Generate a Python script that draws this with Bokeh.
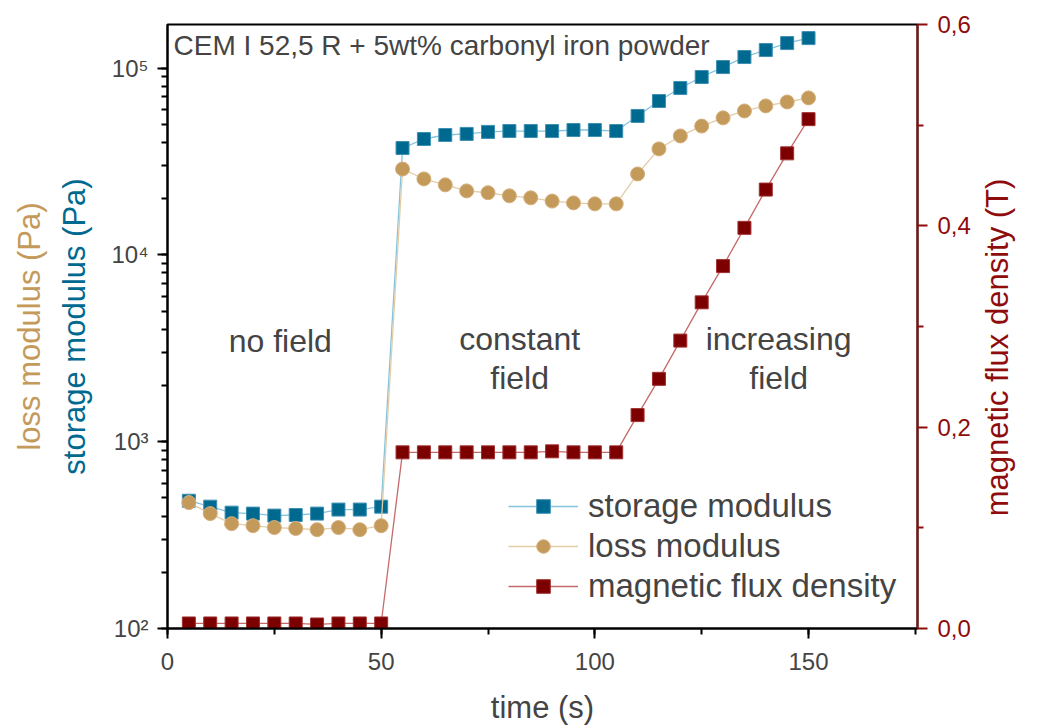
import math
from bokeh.plotting import figure
from bokeh.layouts import row
from bokeh.models import (Range1d, LinearAxis, LinearScale, SingleIntervalTicker, FixedTicker,
                          CustomJSTickFormatter, Label, Legend, LegendItem, LogTicker)
from bokeh.embed import file_html
from bokeh.resources import INLINE

time_s = [5, 10, 15, 20, 25, 30, 35, 40, 45, 50,
          55, 60, 65, 70, 75, 80, 85, 90, 95, 100,
          105, 110, 115, 120, 125, 130, 135, 140, 145, 150]
storage_modulus = [483, 449, 417, 412, 402, 405, 412, 433, 433, 449,
                   37300, 41700, 43800, 44400, 45500, 46000, 46000, 46000, 46600, 46600,
                   46000, 55400, 66600, 78200, 89500, 101200, 114500, 124800, 136000, 144600]
loss_modulus = [472, 412, 364, 355, 347, 343, 338, 347, 338, 355,
                28800, 25500, 23700, 22000, 21500, 20700, 20200, 19400, 18970, 18750,
                18750, 27100, 36900, 43300, 48900, 54100, 58900, 62700, 65800, 69200]
flux_density = [0.005, 0.005, 0.005, 0.005, 0.005, 0.005, 0.004, 0.005, 0.005, 0.005,
                0.175, 0.175, 0.175, 0.175, 0.175, 0.175, 0.175, 0.176, 0.175, 0.175,
                0.175, 0.212, 0.248, 0.286, 0.324, 0.360, 0.398, 0.436, 0.472, 0.506]
flux_ticks = [0.0, 0.2, 0.4, 0.6]
flux_minor_ticks = [0.1, 0.3, 0.5]

title_text = "CEM I 52,5 R + 5wt% carbonyl iron powder"
right_title = "magnetic flux density (T)"
region_labels = [("no field", 26.4, 3470), ("constant", 82.4, 3560), ("field", 82.4, 2200),
                 ("increasing", 143.0, 3560), ("field", 143.0, 2200)]

FONT = "Liberation Sans"
BLUE = "#00698f"
BLUE_LINE = "#86c3dc"
TAN = "#c49a5b"
TAN_LINE = "#e3cda8"
RED = "#7d0000"
RED_LINE = "#c46a6a"
AXRED = "#8e0c0c"

p = figure(width=980, height=728, output_backend="svg", toolbar_location=None,
           y_axis_type="log", x_range=Range1d(0, 175.5), y_range=Range1d(100, 171000),
           min_border_left=167, min_border_right=63, min_border_top=24, min_border_bottom=100)
p.extra_y_ranges = {"flux": Range1d(0, 0.6)}
p.extra_y_scales = {"flux": LinearScale()}
p.xgrid.visible = False
p.ygrid.visible = False
p.outline_line_color = "black"
p.outline_line_width = 2
p.background_fill_color = "white"
p.border_fill_color = "white"

# x axis
xa = p.xaxis[0]
xa.ticker = SingleIntervalTicker(interval=50, num_minor_ticks=2)
xa.axis_label = "time (s)"
xa.axis_label_text_font = FONT
xa.axis_label_text_font_style = "normal"
xa.axis_label_text_font_size = "31px"
xa.axis_label_standoff = 17
xa.major_label_text_font = FONT
xa.major_label_text_font_size = "24px"
xa.major_label_standoff = 14
xa.axis_line_width = 2
xa.major_tick_line_width = 2
xa.major_tick_out = 10
xa.major_tick_in = 0
xa.minor_tick_out = 6
xa.minor_tick_in = 0
xa.minor_tick_line_width = 2

# left log axis
ya = p.yaxis[0]
ya.ticker = LogTicker(desired_num_ticks=4, num_minor_ticks=10)
ya.formatter = CustomJSTickFormatter(code="""
const sup = {'0':'\u2070','1':'\u00b9','2':'\u00b2','3':'\u00b3','4':'\u2074','5':'\u2075','6':'\u2076','7':'\u2077','8':'\u2078','9':'\u2079'};
const e = Math.round(Math.log10(tick));
return '10' + String(e).split('').map(c => sup[c]).join('');
""")
ya.axis_label = "storage modulus (Pa)"
ya.axis_label_text_color = BLUE
ya.axis_label_text_font = FONT
ya.axis_label_text_font_style = "normal"
ya.axis_label_text_font_size = "31px"
ya.axis_label_standoff = 16
ya.major_label_text_font = FONT
ya.major_label_text_font_size = "24px"
ya.major_label_standoff = 9
ya.axis_line_width = 2
ya.major_tick_line_width = 2
ya.major_tick_out = 10
ya.major_tick_in = 0
ya.minor_tick_out = 6
ya.minor_tick_in = 0
ya.minor_tick_line_width = 2

# extra left axis carrying only the loss modulus title
la = LinearAxis(y_range_name="flux", ticker=FixedTicker(ticks=[]),
                axis_label="loss modulus (Pa)", axis_label_text_color=TAN,
                axis_label_text_font=FONT, axis_label_text_font_style="normal",
                axis_label_text_font_size="31px", axis_label_standoff=8,
                axis_line_color=None, major_tick_line_color=None, minor_tick_line_color=None)
p.add_layout(la, "left")

# right axis
ra = LinearAxis(y_range_name="flux",
                ticker=FixedTicker(ticks=flux_ticks, minor_ticks=flux_minor_ticks),
                formatter=CustomJSTickFormatter(code="return tick.toFixed(1).replace('.', ',');"),
                major_label_text_font=FONT, major_label_text_font_size="24px",
                major_label_text_color=AXRED, major_label_standoff=10,
                axis_line_color=AXRED, axis_line_width=2,
                major_tick_line_color=AXRED, major_tick_line_width=2,
                major_tick_out=10, major_tick_in=0,
                minor_tick_line_color=AXRED, minor_tick_line_width=2,
                minor_tick_out=6, minor_tick_in=0)
p.add_layout(ra, "right")

# series
l1 = p.line(time_s, storage_modulus, line_color=BLUE_LINE, line_width=1.3)
s1 = p.scatter(time_s, storage_modulus, marker="square", size=13, fill_color=BLUE,
               line_color="#3d8fb3", line_width=1)
l2 = p.line(time_s, loss_modulus, line_color=TAN_LINE, line_width=1.3)
s2 = p.scatter(time_s, loss_modulus, marker="circle", size=14, fill_color=TAN,
               line_color="#d4b07c", line_width=1)
l3 = p.line(time_s, flux_density, line_color=RED_LINE, line_width=1.3, y_range_name="flux")
s3 = p.scatter(time_s, flux_density, marker="square", size=13, fill_color=RED,
               line_color="#a03030", line_width=1, y_range_name="flux")

legend = Legend(items=[LegendItem(label="storage modulus", renderers=[l1, s1]),
                       LegendItem(label="loss modulus", renderers=[l2, s2]),
                       LegendItem(label="magnetic flux density", renderers=[l3, s3])],
                location=(341, 23), glyph_width=70, glyph_height=34, spacing=2,
                label_text_font=FONT, label_text_font_size="33px", label_standoff=10,
                label_height=34, padding=0, margin=0, border_line_color=None,
                background_fill_alpha=0)
p.add_layout(legend)

p.add_layout(Label(x=6, y=583, x_units="screen", y_units="screen", text=title_text,
                   text_font=FONT, text_font_size="28px", text_baseline="middle"))

for txt, xx, yy in region_labels:
    p.add_layout(Label(x=xx, y=yy, text=txt, text_font=FONT, text_font_size="32px",
                       text_align="center", text_baseline="middle"))

# narrow strip at the right that carries the right-axis title, reading bottom to top
p2 = figure(width=63, height=728, output_backend="svg", toolbar_location=None,
            x_range=Range1d(0, 63), y_range=Range1d(0, 728),
            x_axis_location=None, y_axis_location=None,
            min_border=0, min_border_left=0, min_border_right=0,
            min_border_top=0, min_border_bottom=0)
p2.xgrid.visible = False
p2.ygrid.visible = False
p2.outline_line_color = None
p2.background_fill_color = "white"
p2.border_fill_color = "white"
p2.add_layout(Label(x=17, y=281, x_units="screen", y_units="screen", text=right_title,
                    angle=math.pi / 2, text_font=FONT, text_font_size="31px",
                    text_color=AXRED, text_align="center", text_baseline="middle"))

layout = row(p, p2, spacing=0)
open("out.html", "w").write(file_html(layout, INLINE))
